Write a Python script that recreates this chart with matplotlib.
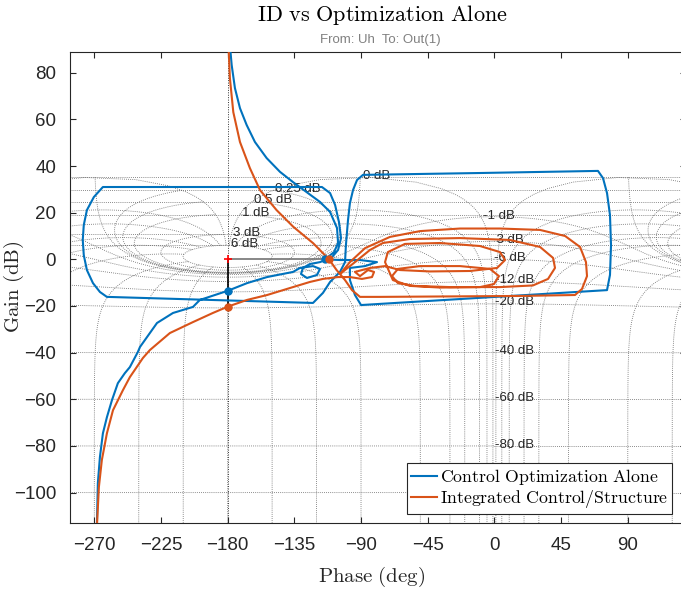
import numpy as np
import matplotlib
matplotlib.use("Agg")
import matplotlib.pyplot as plt

plt.rcParams['mathtext.fontset'] = 'cm'
plt.rcParams['font.family'] = ['Liberation Sans', 'DejaVu Sans']

# open-loop phase (deg) / gain (dB)
opt_phase = [-178.8, -177.3, -175.1, -171.7, -167.2, -161.6, -153.7, -144.7, -135.9, -126.7,
             -117.7, -110.9, -106.2, -105.5, -108.2, -114.3,
             -104.2, -90.7, -79.2, -87.3, -97.5,
             -97.5, -94.1, -90.0, -7.0, 76.0, 78.0, 78.7, 78.0, 76.0, 73.3, 69.9, -9.7, -88.7,
             -92.7, -95.4, -97.5, -98.8, -100.2, -100.8, -104.2,
             -110.9, -115.7, -122.4, -192.0, -261.5, -266.2, -270.9, -275.0, -277.1, -277.8,
             -277.1, -275.0, -270.3, -264.2, -116.4, -110.9, -107.5, -104.9, -103.5, -105.5, -109.5,
             -117.7, -124.5, -129.2, -130.5, -126.5, -119.7, -117.7, -122.4, -131.2, -135.9,
             -153.4, -166.9, -180.0, -198.7, -200.0, -203.4, -216.9, -227.7, -239.2, -240.6,
             -246.0, -249.4, -254.1, -258.1, -261.5, -264.2, -266.2, -267.6, -268.2, -268.6]
opt_gain = [94.0, 83.3, 73.4, 64.8, 57.6, 50.3, 43.4, 37.5, 33.1, 28.8,
            24.6, 20.3, 13.4, 7.0, 3.1, 0.0,
            -0.3, -0.3, -1.2, -2.9, -3.7,
            -8.9, -15.3, -19.6, -16.4, -13.2, -6.7, 6.1, 19.0, 28.4, 34.8, 37.9, 37.0, 36.2,
            34.0, 29.7, 24.1, 16.8, 6.1, -1.2, -5.4,
            -9.7, -14.4, -18.7, -17.4, -16.1, -14.0, -10.2, -4.6, 1.8, 8.3,
            14.7, 21.1, 26.7, 31.0, 31.0, 28.4, 23.3, 16.0, 9.1, 4.0, 1.0,
            -1.2, -2.0, -3.7, -6.3, -8.0, -6.7, -4.1, -2.9, -3.7, -5.4,
            -7.6, -10.2, -13.5, -17.4, -18.2, -20.4, -23.0, -27.3, -37.6, -39.7,
            -46.2, -48.8, -53.1, -60.4, -67.7, -74.6, -84.7, -95.9, -112.6, -122.0]

ics_phase = [-179.6, -178.5, -176.2, -171.7, -165.0, -158.2, -147.0, -135.8, -122.3, -111.6,
             -106.5, -104.2,
             -97.5, -87.3, -70.5, -50.2, -23.2, 3.8, 30.8, 47.7, 57.8, 61.8, 62.5, 59.1, 54.4,
             17.3, -30.0, -77.2, -90.7, -96.1, -100.8, -104.2,
             -94.1, -84.0, -75.2, -57.0, -23.2, 10.5, 30.8, 39.6, 40.9, 36.2, 26.0, 3.8, -30.0, -53.6,
             -65.1, -69.1, -65.1, -50.2, -23.2, -3.0, 3.1, -0.3, -9.7, -36.7, -57.0, -68.5,
             -73.8, -71.9, -60.4, -36.7, -9.7, 3.8, 7.2, 1.8, -16.5, -43.5, -63.7, -73.8, -84.0, -94.1,
             -90.7, -85.3, -81.2, -82.6, -89.4, -97.5, -105.5,
             -115.7, -124.5, -135.9, -153.4, -166.9, -180.0, -190.0, -203.4, -219.0, -232.5,
             -237.2, -246.0, -250.7, -257.4, -261.5, -264.9, -266.9, -268.1, -268.3]
ics_gain = [94.0, 77.7, 63.1, 50.3, 39.1, 29.7, 21.1, 14.0, 6.9, 0.0,
            -4.6, -6.3,
            -1.2, 4.8, 9.6, 12.1, 13.2, 13.2, 12.6, 10.0, 5.3, -1.2, -7.2, -12.7, -15.3,
            -15.7, -15.9, -16.1, -16.1, -13.2, -8.9, -6.3,
            -1.2, 4.0, 7.0, 8.7, 9.1, 8.3, 5.3, 0.6, -3.7, -8.4, -11.2, -11.9, -11.9, -11.4,
            -10.2, -7.2, -4.1, -2.9, -2.9, -4.1, -7.2, -10.6, -11.9, -12.1, -11.4, -8.9,
            -1.2, 3.1, 6.6, 7.0, 5.7, 3.1, -0.3, -3.7, -5.0, -5.2, -4.6, -2.9, -3.7, -5.4,
            -7.2, -4.6, -5.4, -7.6, -8.4, -7.6, -7.6,
            -8.4, -9.7, -11.9, -15.3, -17.4, -20.3, -23.0, -26.9, -31.6, -38.9,
            -42.3, -50.5, -56.1, -64.7, -74.6, -86.0, -97.6, -112.6, -122.0]

# stability margins (phase, gain)
opt_gm = (-180.0, -13.5)
opt_pm = (-114.3, 0.0)
ics_gm = (-180.0, -20.3)
ics_pm = (-111.6, 0.0)

grid_gains_db = [6, 3, 1, 0.5, 0.25, 0, -1, -3, -6, -12, -20, -40, -60, -80, -100, -120]
labelled_gains_db = [6, 3, 1, 0.5, 0.25, 0, -1, -3, -6, -12, -20, -40, -60, -80]
grid_phases_deg = [-1, -5, -10, -20, -30, -50, -90, -120, -150, -180]
xticks = [-270, -225, -180, -135, -90, -45, 0, 45, 90]
yticks = [-100, -80, -60, -40, -20, 0, 20, 40, 60, 80]

blue = '#0072BD'
orange = '#D95319'
dark = '#262626'


def to_open_loop(T):
    L = T / (1 - T)
    ph = np.degrees(np.angle(L))
    ph = np.where(ph > 0, ph - 360, ph)
    return ph, 20 * np.log10(np.abs(L))


fig = plt.figure(figsize=(6.81, 5.91), dpi=100)
ax = fig.add_axes([70 / 681, (591 - 522.7) / 591, 616 / 681, 471 / 591])

# Nichols grid
grid_kw = dict(color='0.4', lw=0.6, ls=(0, (1, 1.5)), zorder=1)
shifts = [-360, 0, 360]
for gdb in grid_gains_db:
    m = 10 ** (gdb / 20)
    if gdb >= 0:
        th = np.radians(np.linspace(-359, -1, 2000))
        ph, g = to_open_loop(m * np.exp(1j * th))
        ax.axhline(g[0], **grid_kw)
    else:
        p = np.radians(np.linspace(-360, 0, 1441))
        c = np.cos(p)
        gl = (m ** 2 * c + np.sqrt(m ** 4 * c ** 2 + m ** 2 * (1 - m ** 2))) / (1 - m ** 2)
        ph, g = np.degrees(p), 20 * np.log10(gl)
    for s in shifts:
        ax.plot(ph + s, g, **grid_kw)
    if gdb in labelled_gains_db:
        lp, lg = to_open_loop(np.array([m * np.exp(-1j * np.radians(1))]))
        ax.text(lp[0] + 1.5, lg[0] + 0.6, f'{gdb:g} dB', fontsize=9.5, color=dark,
                ha='left', va='center', zorder=2)

mag = np.logspace(np.log10(2), -7, 1500)
for psi in grid_phases_deg:
    for q in sorted({psi, -360 - psi}):
        ph, g = to_open_loop(mag * np.exp(1j * np.radians(q)))
        for s in shifts:
            ax.plot(ph + s, g, **grid_kw)
ax.axvline(-180, color='0.2', lw=0.7, ls=(0, (1, 1.5)), zorder=1)

# margins
ax.plot([-180, opt_pm[0]], [0, 0], color='0.45', lw=1.2, zorder=3)
ax.plot([-180, -180], [0, ics_gm[1]], color='k', lw=1.2, zorder=3)

l1, = ax.plot(opt_phase, opt_gain, color=blue, lw=1.5, zorder=4)
l2, = ax.plot(ics_phase, ics_gain, color=orange, lw=1.5, zorder=4)
ax.plot([opt_gm[0], opt_pm[0]], [opt_gm[1], opt_pm[1]], 'o', color=blue, ms=5, ls='none', zorder=5)
ax.plot([ics_gm[0], ics_pm[0]], [ics_gm[1], ics_pm[1]], 'o', color=orange, ms=5, ls='none', zorder=5)
ax.plot([-180], [0], '+', color='red', ms=6, mew=1.2, zorder=6)

ax.set_xlim(-286.4, 129.3)
ax.set_ylim(-112.9, 89.0)
ax.set_xticks(xticks)
ax.set_yticks(yticks)
ax.tick_params(direction='in', top=True, right=True, length=4.3, width=0.8,
               labelsize=13.5, colors=dark)
ax.tick_params(axis='y', pad=10)
ax.tick_params(axis='x', pad=10)
for sp in ax.spines.values():
    sp.set_color(dark)
    sp.set_linewidth(0.8)

ax.set_xlabel(r'$\mathrm{Phase\ (deg)}$', fontsize=15, color=dark)
ax.set_ylabel(r'$\mathrm{Gain\ (dB)}$', fontsize=15, color=dark)
ax.xaxis.set_label_coords((372 - 70) / 616, (522.7 - 565) / 471)
ax.yaxis.set_label_coords((26 - 70) / 616, (522.7 - 287) / 471)

leg = ax.legend(handles=[l1, l2],
                labels=[r'$\mathrm{Control\ Optimization\ Alone}$',
                        r'$\mathrm{Integrated\ Control/Structure}$'],
                loc='lower right', bbox_to_anchor=((672 - 70) / 616, (522.7 - 514) / 471),
                borderaxespad=0, fontsize=12.8, fancybox=False, framealpha=1,
                edgecolor=dark, handlelength=1.45, handletextpad=0.15, labelspacing=0.05,
                borderpad=0.22)
leg.get_frame().set_linewidth(0.8)
leg.set_zorder(10)

fig.text(382 / 681, 1 - 15 / 591, r'$\mathrm{ID\ vs\ Optimization\ Alone}$',
         ha='center', va='center', fontsize=16, color='k')
fig.text(380 / 681, 1 - 40 / 591, 'From: Uh  To: Out(1)', ha='center', va='center',
         fontsize=9.5, color='#808080')

fig.savefig('out.png', dpi=100)
